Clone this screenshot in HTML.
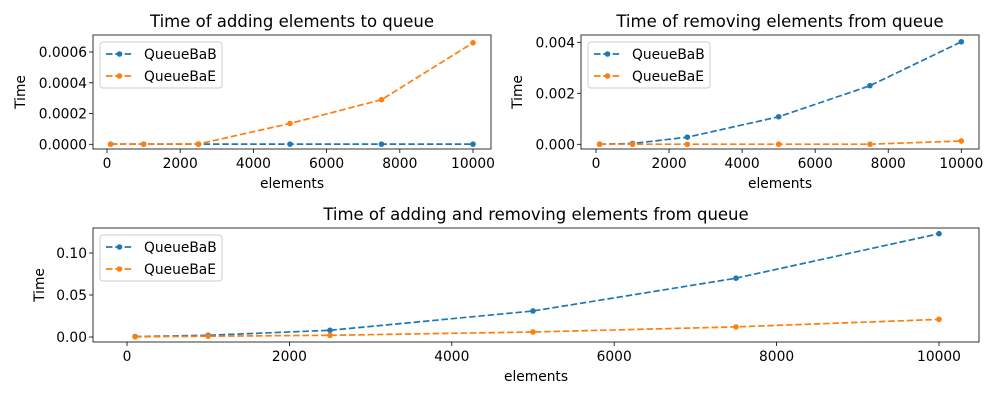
<!DOCTYPE html>
<html><head><meta charset="utf-8"><style>
body{margin:0;background:#fff;}
svg{display:block;font-family:"DejaVu Sans","Liberation Sans",sans-serif;}
</style></head><body>
<svg id="fig" width="1000" height="400"></svg>
<script>
const xs = [100, 1000, 2500, 5000, 7500, 10000];
const seriesNames = ["QueueBaB", "QueueBaE"];
const addB = [0.000001, 0.000001, 0.000001, 0.000001, 0.000001, 0.000001];
const addE = [0.000001, 0.000001, 0.000002, 0.000135, 0.00029, 0.00066];
const remB = [0.000003, 0.00003, 0.00028, 0.00108, 0.0023, 0.00402];
const remE = [0.000002, 0.000002, 0.000002, 0.000002, 0.000003, 0.00013];
const bothB = [0.0005, 0.002, 0.008, 0.031, 0.07, 0.123];
const bothE = [0.0002, 0.001, 0.002, 0.006, 0.012, 0.021];
const xTicks = [0, 2000, 4000, 6000, 8000, 10000];
const yTicks1 = ["0.0000", "0.0002", "0.0004", "0.0006"];
const yTicks2 = ["0.000", "0.002", "0.004"];
const yTicks3 = ["0.00", "0.05", "0.10"];

const NS = "http://www.w3.org/2000/svg";
const fig = document.getElementById("fig");
const colors = ["#1f77b4", "#ff7f0e"];
function mk(tag, attrs, parent, text) {
  const e = document.createElementNS(NS, tag);
  for (const k in attrs) e.setAttribute(k, attrs[k]);
  if (text !== undefined) e.textContent = text;
  parent.appendChild(e);
  return e;
}
function chart(cfg) {
  const g = mk("g", {}, fig);
  
  
  const {L, R, T, B, x0px, x1px, y0px, y1px, y1val} = cfg;
  const sx = v => x0px + (v / 10000) * (x1px - x0px);
  const sy = v => y0px + (v / y1val) * (y1px - y0px);
  const t = mk("text", {x: (L + R) / 2, y: T - 8, "text-anchor": "middle", "font-size": 16.5, fill: "#000"}, g, cfg.title);
  
  
  xTicks.forEach(v => {
    const x = sx(v);
    mk("line", {x1: x, x2: x, y1: B, y2: B + 4, stroke: "#000", "stroke-width": 0.8}, g);
    const tl = mk("text", {x: x, y: B + 19, "text-anchor": "middle", "font-size": 13.8}, g, String(v));
    
    
  });
  cfg.yTicks.forEach(s => {
    const y = sy(parseFloat(s));
    mk("line", {x1: L - 4, x2: L, y1: y, y2: y, stroke: "#000", "stroke-width": 0.8}, g);
    const tl = mk("text", {x: L - 6, y: y + 5, "text-anchor": "end", "font-size": 13.8}, g, s);
    
    
  });
  const xl = mk("text", {x: (L + R) / 2, y: B + 39, "text-anchor": "middle", "font-size": 13.8}, g, "elements");
  
  
  const yx = cfg.yLabelX, yy = (T + B) / 2;
  const yl = mk("text", {x: yx, y: yy, "text-anchor": "middle", "font-size": 13.8, transform: `rotate(-90 ${yx} ${yy})`}, g, "Time");
  
  
  cfg.series.forEach((arr, i) => {
    const pts = xs.map((x, j) => sx(x).toFixed(1) + "," + sy(arr[j]).toFixed(1)).join(" ");
    const pl = mk("polyline", {points: pts, fill: "none", stroke: colors[i], "stroke-width": 1.7, "stroke-dasharray": "6.5,2.8"}, g);
    
    
    xs.forEach((x, j) => {
      const c = mk("circle", {cx: sx(x), cy: sy(arr[j]), r: 2.8, fill: colors[i]}, g);
      
      
    });
  });
  const frame = mk("rect", {x: L, y: T, width: R - L, height: B - T, fill: "none", stroke: "#000", "stroke-width": 0.8}, g);
  
  
  const lg = mk("g", {}, g);
  
  
  const lx = L + 7, ly = T + 7;
  mk("rect", {x: lx, y: ly, width: 122, height: 46, rx: 3, fill: "#fff", "fill-opacity": 0.8, stroke: "#ccc", "stroke-width": 1}, lg);
  seriesNames.forEach((n, i) => {
    const y = ly + 12 + i * 22;
    const e = mk("g", {}, lg);
    
    
    mk("line", {x1: lx + 6, x2: lx + 33, y1: y, y2: y, stroke: colors[i], "stroke-width": 1.7, "stroke-dasharray": "6.5,2.8"}, e);
    mk("circle", {cx: lx + 19.5, cy: y, r: 2.8, fill: colors[i]}, e);
    mk("text", {x: lx + 44, y: y + 5, "font-size": 13.8}, e, n);
  });
}
chart({name: "add-chart", title: "Time of adding elements to queue", L: 93, R: 491, T: 35, B: 149,
  x0px: 107, x1px: 473, y0px: 144.3, y1px: 52, y1val: 0.0006, yTicks: yTicks1, yLabelX: 25, series: [addB, addE]});
chart({name: "remove-chart", title: "Time of removing elements from queue", L: 581, R: 979, T: 35, B: 149,
  x0px: 596, x1px: 961.3, y0px: 144.3, y1px: 42.3, y1val: 0.004, yTicks: yTicks2, yLabelX: 522, series: [remB, remE]});
chart({name: "add-remove-chart", title: "Time of adding and removing elements from queue", L: 93, R: 979, T: 228, B: 342,
  x0px: 127, x1px: 939, y0px: 337, y1px: 253, y1val: 0.1, yTicks: yTicks3, yLabelX: 44, series: [bothB, bothE]});
</script>
</body></html>
